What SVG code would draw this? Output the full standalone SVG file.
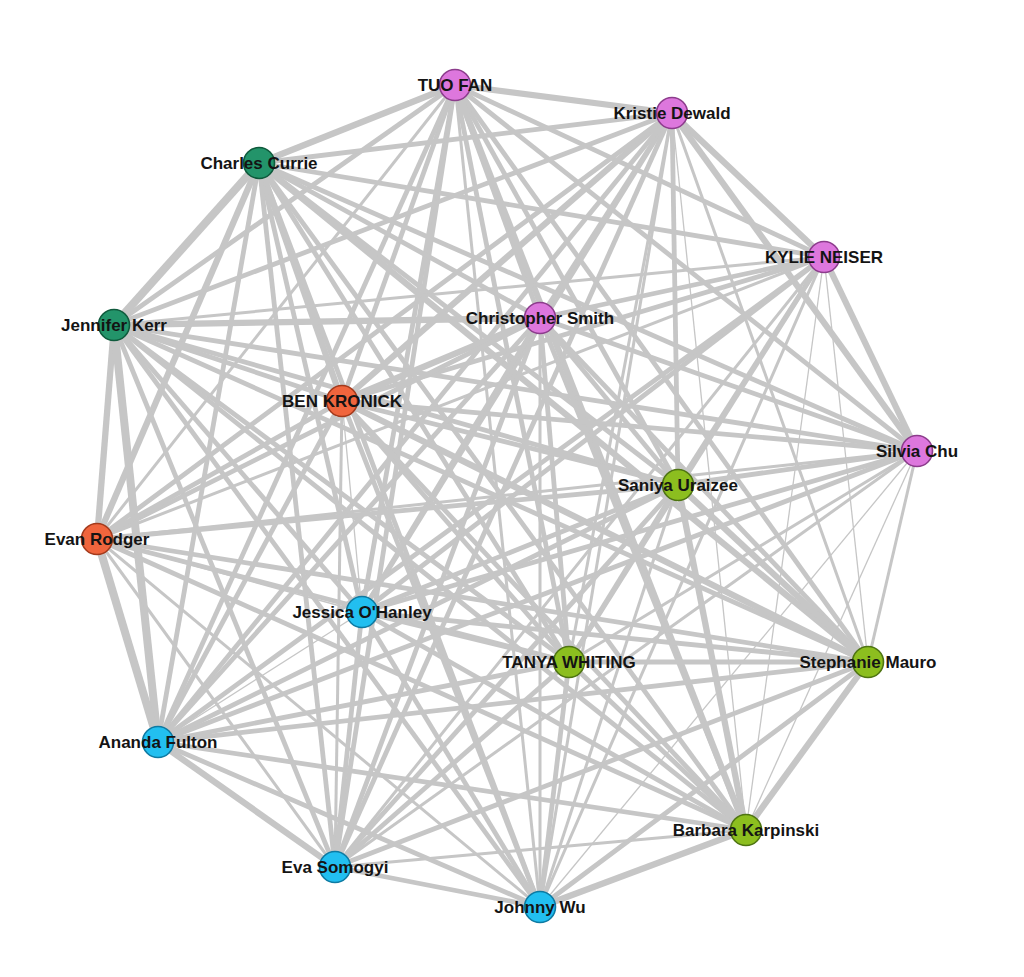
<svg xmlns="http://www.w3.org/2000/svg" width="1024" height="977" viewBox="0 0 1024 977">
<style>
.e{stroke:#c6c6c6;stroke-linecap:butt;fill:none}
.w1{stroke-width:1.3}.w2{stroke-width:3}.w3{stroke-width:4.8}.w4{stroke-width:6.3}.w5{stroke-width:8}
circle{stroke-width:1.6}
.pk{fill:#dd77dd;stroke:#8c3c8c}.tl{fill:#23946a;stroke:#0f5a3c}.or{fill:#f0653d;stroke:#a33a1c}.bl{fill:#22bff0;stroke:#0e7aa2}.gr{fill:#8cbe1f;stroke:#4e7412}
text{font-family:"Liberation Sans",Arial,sans-serif;font-weight:bold;font-size:17px;fill:#141414;text-anchor:middle}
</style>
<rect width="1024" height="977" fill="#ffffff"/>
<g id="connectors">
<line class="e w4" x1="455" y1="85" x2="672" y2="113"/>
<line class="e w4" x1="455" y1="85" x2="259" y2="163"/>
<line class="e w3" x1="455" y1="85" x2="824" y2="257"/>
<line class="e w3" x1="455" y1="85" x2="114" y2="325"/>
<line class="e w3" x1="455" y1="85" x2="540" y2="318"/>
<line class="e w3" x1="455" y1="85" x2="342" y2="401"/>
<line class="e w3" x1="455" y1="85" x2="917" y2="451"/>
<line class="e w3" x1="455" y1="85" x2="678" y2="485"/>
<line class="e w2" x1="455" y1="85" x2="97" y2="539"/>
<line class="e w3" x1="455" y1="85" x2="362" y2="612"/>
<line class="e w3" x1="455" y1="85" x2="569" y2="662"/>
<line class="e w3" x1="455" y1="85" x2="868" y2="662"/>
<line class="e w3" x1="455" y1="85" x2="158" y2="742"/>
<line class="e w4" x1="455" y1="85" x2="746" y2="830"/>
<line class="e w3" x1="455" y1="85" x2="335" y2="867"/>
<line class="e w2" x1="455" y1="85" x2="540" y2="907"/>
<line class="e w3" x1="672" y1="113" x2="259" y2="163"/>
<line class="e w4" x1="672" y1="113" x2="824" y2="257"/>
<line class="e w3" x1="672" y1="113" x2="114" y2="325"/>
<line class="e w3" x1="672" y1="113" x2="540" y2="318"/>
<line class="e w4" x1="672" y1="113" x2="342" y2="401"/>
<line class="e w4" x1="672" y1="113" x2="917" y2="451"/>
<line class="e w3" x1="672" y1="113" x2="678" y2="485"/>
<line class="e w3" x1="672" y1="113" x2="97" y2="539"/>
<line class="e w3" x1="672" y1="113" x2="362" y2="612"/>
<line class="e w2" x1="672" y1="113" x2="569" y2="662"/>
<line class="e w2" x1="672" y1="113" x2="868" y2="662"/>
<line class="e w3" x1="672" y1="113" x2="158" y2="742"/>
<line class="e w1" x1="672" y1="113" x2="746" y2="830"/>
<line class="e w3" x1="672" y1="113" x2="335" y2="867"/>
<line class="e w2" x1="672" y1="113" x2="540" y2="907"/>
<line class="e w3" x1="259" y1="163" x2="824" y2="257"/>
<line class="e w5" x1="259" y1="163" x2="114" y2="325"/>
<line class="e w3" x1="259" y1="163" x2="540" y2="318"/>
<line class="e w4" x1="259" y1="163" x2="342" y2="401"/>
<line class="e w3" x1="259" y1="163" x2="917" y2="451"/>
<line class="e w3" x1="259" y1="163" x2="678" y2="485"/>
<line class="e w4" x1="259" y1="163" x2="97" y2="539"/>
<line class="e w3" x1="259" y1="163" x2="362" y2="612"/>
<line class="e w3" x1="259" y1="163" x2="569" y2="662"/>
<line class="e w4" x1="259" y1="163" x2="868" y2="662"/>
<line class="e w3" x1="259" y1="163" x2="158" y2="742"/>
<line class="e w3" x1="259" y1="163" x2="746" y2="830"/>
<line class="e w3" x1="259" y1="163" x2="335" y2="867"/>
<line class="e w3" x1="259" y1="163" x2="540" y2="907"/>
<line class="e w2" x1="824" y1="257" x2="114" y2="325"/>
<line class="e w3" x1="824" y1="257" x2="540" y2="318"/>
<line class="e w3" x1="824" y1="257" x2="342" y2="401"/>
<line class="e w4" x1="824" y1="257" x2="917" y2="451"/>
<line class="e w3" x1="824" y1="257" x2="678" y2="485"/>
<line class="e w2" x1="824" y1="257" x2="97" y2="539"/>
<line class="e w3" x1="824" y1="257" x2="362" y2="612"/>
<line class="e w3" x1="824" y1="257" x2="569" y2="662"/>
<line class="e w1" x1="824" y1="257" x2="868" y2="662"/>
<line class="e w3" x1="824" y1="257" x2="158" y2="742"/>
<line class="e w1" x1="824" y1="257" x2="746" y2="830"/>
<line class="e w2" x1="824" y1="257" x2="335" y2="867"/>
<line class="e w2" x1="824" y1="257" x2="540" y2="907"/>
<line class="e w4" x1="114" y1="325" x2="540" y2="318"/>
<line class="e w3" x1="114" y1="325" x2="342" y2="401"/>
<line class="e w3" x1="114" y1="325" x2="917" y2="451"/>
<line class="e w3" x1="114" y1="325" x2="678" y2="485"/>
<line class="e w4" x1="114" y1="325" x2="97" y2="539"/>
<line class="e w3" x1="114" y1="325" x2="362" y2="612"/>
<line class="e w3" x1="114" y1="325" x2="569" y2="662"/>
<line class="e w3" x1="114" y1="325" x2="868" y2="662"/>
<line class="e w5" x1="114" y1="325" x2="158" y2="742"/>
<line class="e w3" x1="114" y1="325" x2="746" y2="830"/>
<line class="e w3" x1="114" y1="325" x2="335" y2="867"/>
<line class="e w3" x1="114" y1="325" x2="540" y2="907"/>
<line class="e w4" x1="540" y1="318" x2="342" y2="401"/>
<line class="e w3" x1="540" y1="318" x2="917" y2="451"/>
<line class="e w3" x1="540" y1="318" x2="678" y2="485"/>
<line class="e w3" x1="540" y1="318" x2="97" y2="539"/>
<line class="e w3" x1="540" y1="318" x2="362" y2="612"/>
<line class="e w3" x1="540" y1="318" x2="569" y2="662"/>
<line class="e w3" x1="540" y1="318" x2="868" y2="662"/>
<line class="e w3" x1="540" y1="318" x2="158" y2="742"/>
<line class="e w3" x1="540" y1="318" x2="746" y2="830"/>
<line class="e w3" x1="540" y1="318" x2="335" y2="867"/>
<line class="e w2" x1="540" y1="318" x2="540" y2="907"/>
<line class="e w3" x1="342" y1="401" x2="917" y2="451"/>
<line class="e w3" x1="342" y1="401" x2="678" y2="485"/>
<line class="e w3" x1="342" y1="401" x2="97" y2="539"/>
<line class="e w1" x1="342" y1="401" x2="362" y2="612"/>
<line class="e w3" x1="342" y1="401" x2="569" y2="662"/>
<line class="e w4" x1="342" y1="401" x2="868" y2="662"/>
<line class="e w3" x1="342" y1="401" x2="158" y2="742"/>
<line class="e w3" x1="342" y1="401" x2="746" y2="830"/>
<line class="e w2" x1="342" y1="401" x2="335" y2="867"/>
<line class="e w3" x1="342" y1="401" x2="540" y2="907"/>
<line class="e w3" x1="917" y1="451" x2="678" y2="485"/>
<line class="e w2" x1="917" y1="451" x2="97" y2="539"/>
<line class="e w3" x1="917" y1="451" x2="362" y2="612"/>
<line class="e w2" x1="917" y1="451" x2="569" y2="662"/>
<line class="e w2" x1="917" y1="451" x2="868" y2="662"/>
<line class="e w3" x1="917" y1="451" x2="158" y2="742"/>
<line class="e w1" x1="917" y1="451" x2="746" y2="830"/>
<line class="e w2" x1="917" y1="451" x2="335" y2="867"/>
<line class="e w1" x1="917" y1="451" x2="540" y2="907"/>
<line class="e w3" x1="678" y1="485" x2="97" y2="539"/>
<line class="e w3" x1="678" y1="485" x2="362" y2="612"/>
<line class="e w3" x1="678" y1="485" x2="569" y2="662"/>
<line class="e w4" x1="678" y1="485" x2="868" y2="662"/>
<line class="e w3" x1="678" y1="485" x2="158" y2="742"/>
<line class="e w4" x1="678" y1="485" x2="746" y2="830"/>
<line class="e w3" x1="678" y1="485" x2="335" y2="867"/>
<line class="e w2" x1="678" y1="485" x2="540" y2="907"/>
<line class="e w1" x1="97" y1="539" x2="362" y2="612"/>
<line class="e w3" x1="97" y1="539" x2="569" y2="662"/>
<line class="e w3" x1="97" y1="539" x2="868" y2="662"/>
<line class="e w5" x1="97" y1="539" x2="158" y2="742"/>
<line class="e w3" x1="97" y1="539" x2="746" y2="830"/>
<line class="e w2" x1="97" y1="539" x2="335" y2="867"/>
<line class="e w2" x1="97" y1="539" x2="540" y2="907"/>
<line class="e w3" x1="362" y1="612" x2="569" y2="662"/>
<line class="e w3" x1="362" y1="612" x2="868" y2="662"/>
<line class="e w1" x1="362" y1="612" x2="158" y2="742"/>
<line class="e w3" x1="362" y1="612" x2="746" y2="830"/>
<line class="e w3" x1="362" y1="612" x2="335" y2="867"/>
<line class="e w3" x1="362" y1="612" x2="540" y2="907"/>
<line class="e w3" x1="569" y1="662" x2="868" y2="662"/>
<line class="e w3" x1="569" y1="662" x2="158" y2="742"/>
<line class="e w3" x1="569" y1="662" x2="746" y2="830"/>
<line class="e w3" x1="569" y1="662" x2="335" y2="867"/>
<line class="e w3" x1="569" y1="662" x2="540" y2="907"/>
<line class="e w3" x1="868" y1="662" x2="158" y2="742"/>
<line class="e w4" x1="868" y1="662" x2="746" y2="830"/>
<line class="e w3" x1="868" y1="662" x2="335" y2="867"/>
<line class="e w3" x1="868" y1="662" x2="540" y2="907"/>
<line class="e w3" x1="158" y1="742" x2="746" y2="830"/>
<line class="e w4" x1="158" y1="742" x2="335" y2="867"/>
<line class="e w3" x1="158" y1="742" x2="540" y2="907"/>
<line class="e w2" x1="746" y1="830" x2="335" y2="867"/>
<line class="e w4" x1="746" y1="830" x2="540" y2="907"/>
<line class="e w3" x1="335" y1="867" x2="540" y2="907"/>
</g>
<g id="n-tuo-fan"><circle class="pk" cx="455" cy="85" r="15.5"/><text x="455" y="91">TUO FAN</text></g>
<g id="n-kristie-dewald"><circle class="pk" cx="672" cy="113" r="15.5"/><text x="672" y="119">Kristie Dewald</text></g>
<g id="n-charles-currie"><circle class="tl" cx="259" cy="163" r="15.5"/><text x="259" y="169">Charles Currie</text></g>
<g id="n-kylie-neiser"><circle class="pk" cx="824" cy="257" r="15.5"/><text x="824" y="263">KYLIE NEISER</text></g>
<g id="n-jennifer-kerr"><circle class="tl" cx="114" cy="325" r="15.5"/><text x="114" y="331">Jennifer Kerr</text></g>
<g id="n-christopher-smith"><circle class="pk" cx="540" cy="318" r="15.5"/><text x="540" y="324">Christopher Smith</text></g>
<g id="n-ben-kronick"><circle class="or" cx="342" cy="401" r="15.5"/><text x="342" y="407">BEN KRONICK</text></g>
<g id="n-silvia-chu"><circle class="pk" cx="917" cy="451" r="15.5"/><text x="917" y="457">Silvia Chu</text></g>
<g id="n-saniya-uraizee"><circle class="gr" cx="678" cy="485" r="15.5"/><text x="678" y="491">Saniya Uraizee</text></g>
<g id="n-evan-rodger"><circle class="or" cx="97" cy="539" r="15.5"/><text x="97" y="545">Evan Rodger</text></g>
<g id="n-jessica-ohanley"><circle class="bl" cx="362" cy="612" r="15.5"/><text x="362" y="618">Jessica O'Hanley</text></g>
<g id="n-tanya-whiting"><circle class="gr" cx="569" cy="662" r="15.5"/><text x="569" y="668">TANYA WHITING</text></g>
<g id="n-stephanie-mauro"><circle class="gr" cx="868" cy="662" r="15.5"/><text x="868" y="668">Stephanie Mauro</text></g>
<g id="n-ananda-fulton"><circle class="bl" cx="158" cy="742" r="15.5"/><text x="158" y="748">Ananda Fulton</text></g>
<g id="n-barbara-karpinski"><circle class="gr" cx="746" cy="830" r="15.5"/><text x="746" y="836">Barbara Karpinski</text></g>
<g id="n-eva-somogyi"><circle class="bl" cx="335" cy="867" r="15.5"/><text x="335" y="873">Eva Somogyi</text></g>
<g id="n-johnny-wu"><circle class="bl" cx="540" cy="907" r="15.5"/><text x="540" y="913">Johnny Wu</text></g>
</svg>
